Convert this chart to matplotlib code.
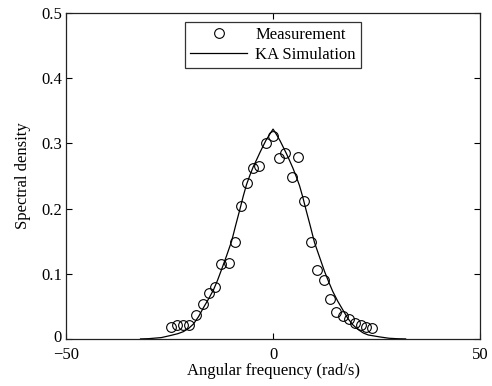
import numpy as np
import matplotlib.pyplot as plt
from matplotlib.transforms import ScaledTranslation

meas_w = [-24.7, -23.2, -21.8, -20.4, -18.6, -17.0, -15.5, -14.0, -12.6, -10.7,
          -9.2, -7.8, -6.2, -4.8, -3.3, -1.8, 0.0,
          1.4, 2.9, 4.5, 6.1, 7.5, 9.1, 10.7, 12.2, 13.8,
          15.3, 16.8, 18.3, 19.8, 21.2, 22.5, 23.8]
meas_s = [0.018, 0.021, 0.021, 0.022, 0.036, 0.054, 0.070, 0.080, 0.115, 0.117,
          0.149, 0.204, 0.239, 0.263, 0.265, 0.300, 0.311,
          0.277, 0.286, 0.249, 0.279, 0.212, 0.149, 0.106, 0.090, 0.061,
          0.042, 0.035, 0.030, 0.025, 0.021, 0.018, 0.017]

# KA simulation curve
sim_w = [-32, -30, -27, -24.9, -23, -21.7, -20.4, -19.2, -18, -16.8, -15.6, -14.4,
         -13.4, -12.4, -11.2, -10, -9, -8, -7.2, -6.4, -5.6, -4.8, -3.9, -3.1,
         -2.4, -1.7, -0.8, 0,
         0.8, 1.7, 2.4, 3.1, 3.9, 4.8, 5.6, 6.4, 7.2, 8, 9, 10, 11.2, 12.4,
         13.4, 14.4, 15.6, 16.8, 18, 19.2, 20.4, 21.8, 23, 25.8, 28, 30, 32]
sim_s = [0.0, 0.0004, 0.002, 0.005, 0.008, 0.011, 0.016, 0.023, 0.034, 0.048, 0.061, 0.075,
         0.090, 0.107, 0.128, 0.150, 0.175, 0.199, 0.219, 0.237, 0.251, 0.264, 0.276, 0.287,
         0.296, 0.305, 0.314, 0.322,
         0.314, 0.304, 0.295, 0.286, 0.275, 0.262, 0.249, 0.235, 0.217, 0.197, 0.173, 0.148, 0.126, 0.104,
         0.088, 0.073, 0.058, 0.045, 0.032, 0.022, 0.015, 0.009, 0.006, 0.003, 0.001, 0.0003, 0.0]

plt.rcParams['font.family'] = ['Liberation Serif', 'DejaVu Serif']
plt.rcParams['font.size'] = 12

fig = plt.figure(figsize=(4.92, 3.86), dpi=100)
ax = fig.add_axes([0.134, 0.122, 0.842, 0.844])

ax.plot(meas_w, meas_s, 'o', mfc='none', mec='k', ms=7, mew=0.8, label='Measurement')
ax.plot(sim_w, sim_s, '-', color='k', lw=0.9, label='KA Simulation')

ax.set_xlim(-50, 50)
ax.set_ylim(0, 0.5)
ax.set_xticks([-50, 0, 50])
ax.set_yticks([0, 0.1, 0.2, 0.3, 0.4, 0.5])
ax.set_yticklabels(['0', '0.1', '0.2', '0.3', '0.4', '0.5'])
ax.tick_params(axis='both', direction='in', top=True, right=True, length=4, width=0.8, colors='k')
ax.tick_params(axis='x', pad=6)
ax.tick_params(axis='y', pad=3)
for sp in ax.spines.values():
    sp.set_linewidth(0.9)
    sp.set_color('#222222')

# nudge the "0" y label up a little so it clears "-50"
lab0 = ax.get_yticklabels()[0]
lab0.set_transform(lab0.get_transform() + ScaledTranslation(0, 2 / 72, fig.dpi_scale_trans))

ax.set_xlabel('Angular frequency (rad/s)', labelpad=0)
ax.set_ylabel('Spectral density', labelpad=7)

leg = ax.legend(loc='upper center', bbox_to_anchor=(0.5, 0.973), borderaxespad=0,
                frameon=True, fancybox=False, handlelength=3.4, handletextpad=0.5,
                borderpad=0.3, labelspacing=0.25)
leg.get_frame().set_edgecolor('k')
leg.get_frame().set_linewidth(0.9)

fig.savefig('out.png', dpi=100)
